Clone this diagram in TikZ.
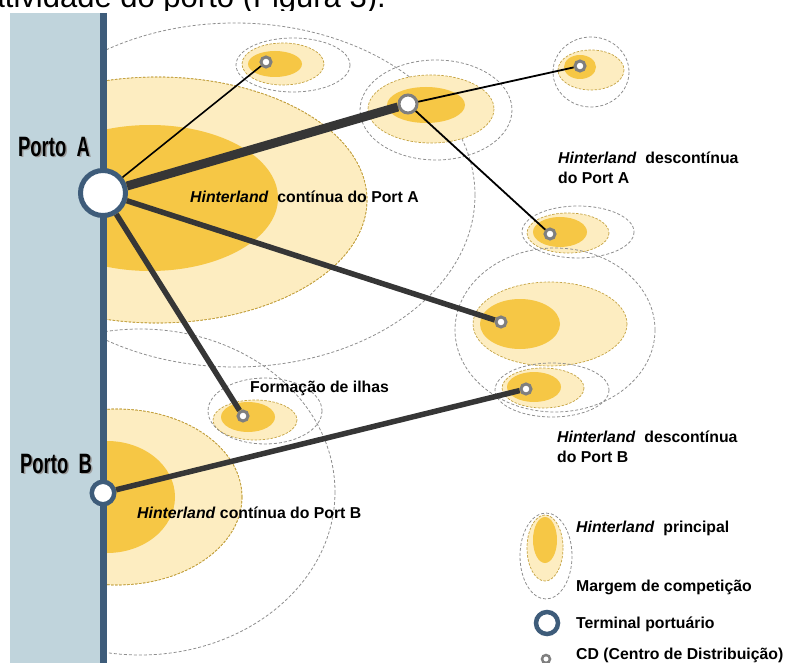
\documentclass[tikz,border=0pt]{standalone}
\usepackage{fontspec}
\setmainfont{Liberation Sans}
\newfontfamily\portfont[FakeStretch=0.66]{Liberation Sans}
\definecolor{hlight}{HTML}{FDEDC1}
\definecolor{hdark}{HTML}{F6C745}
\definecolor{hborder}{HTML}{C4A241}
\definecolor{margin}{HTML}{8E8E8E}
\definecolor{quay}{HTML}{C0D4DC}
\definecolor{quayedge}{HTML}{3E5C7A}
\definecolor{link}{HTML}{363636}
\definecolor{cdgray}{HTML}{7F7F7F}
\begin{document}
\begin{tikzpicture}[x=1pt,y=-1pt,
    hlarea/.style={fill=hlight,draw=hborder,line width=0.7pt,dash pattern=on 2.5pt off 1.5pt},
    hlcore/.style={fill=hdark},
    compet/.style={draw=margin,line width=0.8pt,dash pattern=on 3pt off 2pt},
    terminal/.style={circle,draw=quayedge,fill=white,line width=5pt,inner sep=0pt},
    cd/.style={circle,draw=cdgray,fill=white,line width=3pt,inner sep=0pt,minimum size=10pt},
    txt/.style={font=\bfseries\fontsize{15.8}{19.5}\selectfont,anchor=west,inner sep=0pt,align=left},
    portname/.style={font=\portfont\bfseries\fontsize{28}{28}\selectfont,inner sep=0pt},
    heavy/.style={draw=link,line width=5.5pt},
    slim/.style={draw=black,line width=1.8pt}]
  \useasboundingbox (0,0) rectangle (790,663);

  % line of running text cut at the top
  \begin{scope}
    \clip (0,0) rectangle (790,11);
    \node[anchor=base east,inner sep=0pt,font=\fontsize{31}{32}\selectfont] (topline) at (386,8) {atividade do porto (Figura 3).};
  \end{scope}

  % continuous hinterlands
  \begin{scope}
    \clip (106,0) rectangle (790,663);
    \fill[hlarea] (157,200) ellipse [x radius=210, y radius=123];
    \fill[hlcore] (150,198) ellipse [x radius=128, y radius=73];
    \draw[hlarea,fill=none] (157,200) ellipse [x radius=210, y radius=123];
    \fill[hlarea] (117,497) ellipse [x radius=125, y radius=88];
    \fill[hlcore] (107,497) ellipse [x radius=68, y radius=56];
    \draw[hlarea,fill=none] (117,497) ellipse [x radius=125, y radius=88];
    \draw[compet] (235,195) ellipse [x radius=240, y radius=172];
    \draw[compet] (140,492) ellipse [x radius=195, y radius=163];
  \end{scope}

  % discontinuous hinterlands
  \draw[hlarea] (283,64) ellipse [x radius=41, y radius=21];
  \draw[hlarea] (431,109) ellipse [x radius=63, y radius=34];
  \draw[hlarea] (591,70) ellipse [x radius=33, y radius=20];
  \draw[hlarea] (568,233) ellipse [x radius=41, y radius=20];
  \draw[hlarea] (550,324) ellipse [x radius=77, y radius=42];
  \draw[hlarea] (543,388) ellipse [x radius=41, y radius=20];
  \draw[hlarea] (255,420) ellipse [x radius=42, y radius=20];
  \fill[hlcore] (275,64) ellipse [x radius=27, y radius=13];
  \fill[hlcore] (426,105) ellipse [x radius=39, y radius=18];
  \fill[hlcore] (580,67) ellipse [x radius=16, y radius=12];
  \fill[hlcore] (560,232) ellipse [x radius=27, y radius=15];
  \fill[hlcore] (520,324) ellipse [x radius=40, y radius=25];
  \fill[hlcore] (534,387) ellipse [x radius=27, y radius=15];
  \fill[hlcore] (248,417) ellipse [x radius=27, y radius=15];
  \draw[compet] (293,65) ellipse [x radius=57, y radius=27];
  \draw[compet] (436,110) ellipse [x radius=76, y radius=50];
  \draw[compet] (591,72) ellipse [x radius=38, y radius=35];
  \draw[compet] (578,232) ellipse [x radius=56, y radius=26];
  \draw[compet] (555,330) ellipse [x radius=100, y radius=82];
  \draw[compet] (552,390) ellipse [x radius=57, y radius=27];
  \draw[compet] (265,411) ellipse [x radius=57, y radius=33];

  % quay
  \fill[quay] (10,13) rectangle (100,663);
  \draw[quayedge,line width=7pt] (103.5,13) -- (103.5,663);

  \node[portname,text=black!40] (nameAshade) at (55.5,148.5) {Porto\ \ A};
  \node[portname] (nameA) at (54,147) {Porto\ \ A};
  \node[portname,text=black!40] (nameBshade) at (57.5,465.5) {Porto\ \ B};
  \node[portname] (nameB) at (56,464) {Porto\ \ B};

  \node[terminal,minimum size=45pt] (portA) at (103,193) {};
  \node[terminal,line width=4.5pt,minimum size=22.5pt] (portB) at (103,493) {};

  \node[cd] (cd1) at (266,62) {};
  \node[cd,minimum size=18pt] (cd2) at (408,104) {};
  \node[cd] (cd3) at (580,66) {};
  \node[cd] (cd4) at (550,234) {};
  \node[cd] (cd5) at (501,322) {};
  \node[cd] (cd6) at (526,389) {};
  \node[cd] (cd7) at (243,416) {};

  \draw[heavy,line width=9pt] (portA) -- (cd2);
  \draw[heavy] (portA) -- (cd5);
  \draw[heavy] (portA) -- (cd7);
  \draw[heavy] (portB) -- (cd6);
  \draw[slim,line width=1.6pt] (portA) -- (cd1);
  \draw[slim] (cd2) -- (cd3);
  \draw[slim] (cd2) -- (cd4);

  \node[txt] (contA) at (190,197) {\textit{Hinterland}\ \ contínua do Port A};
  \node[txt] (descA) at (558,168) {\textit{Hinterland}\ \ descontínua\\do Port A};
  \node[txt] (ilhas) at (250,388) {Formação de ilhas};
  \node[txt] (contB) at (137,513) {\textit{Hinterland} contínua do Port B};
  \node[txt] (descB) at (557,447) {\textit{Hinterland}\ \ descontínua\\do Port B};

  % legend
  \draw[compet] (546,556) ellipse [x radius=26, y radius=43];
  \draw[hlarea] (545,548) ellipse [x radius=18, y radius=33];
  \fill[hlcore] (545,540) ellipse [x radius=12, y radius=23];
  \node[terminal,line width=4.5pt,minimum size=22pt] (keyport) at (547,623) {};
  \node[cd,line width=2.5pt,minimum size=8pt] (keycd) at (546,659) {};
  \node[txt] (keymain) at (576,528) {\textit{Hinterland}\ \ principal};
  \node[txt] (keymargin) at (576,587) {Margem de competição};
  \node[txt] (keyporttext) at (576,624) {Terminal portuário};
  \node[txt] (keycdtext) at (576,655) {CD (Centro de Distribuição)};
\end{tikzpicture}
\end{document}
